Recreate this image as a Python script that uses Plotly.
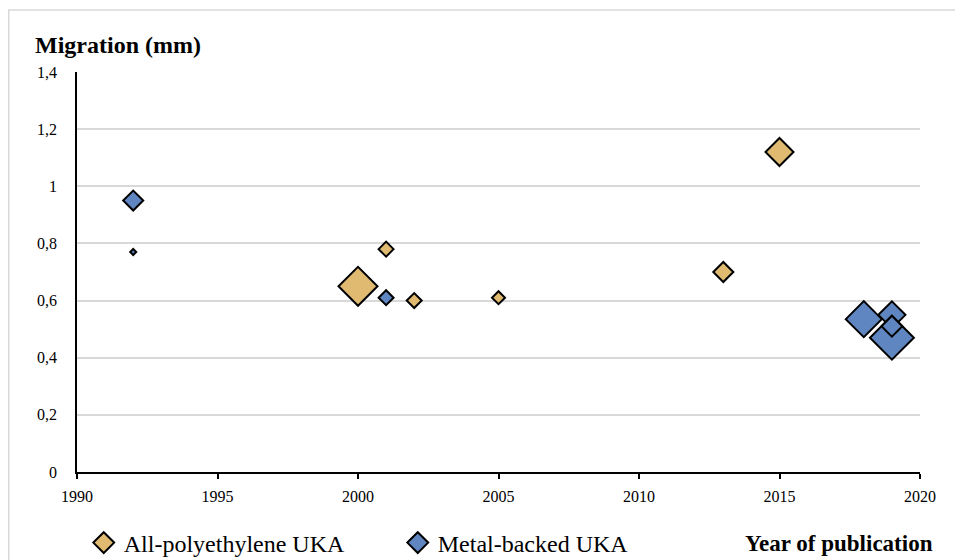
import plotly.graph_objects as go

# All-polyethylene UKA
poly_year = [2000, 2001, 2002, 2005, 2013, 2015]
poly_migration = [0.65, 0.78, 0.60, 0.61, 0.70, 1.12]
poly_size = [30, 11.5, 11.5, 10, 15.4, 21.5]

# Metal-backed UKA
metal_year = [1992, 1992, 2001, 2019, 2018, 2019, 2019]
metal_migration = [0.95, 0.77, 0.61, 0.55, 0.535, 0.47, 0.51]
metal_size = [15.4, 4.6, 11.5, 20.8, 27.7, 33.8, 16]

x_ticks = [1990, 1995, 2000, 2005, 2010, 2015, 2020]
y_ticks = [0, 0.2, 0.4, 0.6, 0.8, 1.0, 1.2, 1.4]

serif = "Liberation Serif"

fig = go.Figure()
fig.add_trace(go.Scatter(
    x=poly_year, y=poly_migration, mode="markers", name="All-polyethylene UKA",
    marker=dict(symbol="diamond", size=poly_size, color="#DFBA70", opacity=1,
                line=dict(color="black", width=2)),
))
fig.add_trace(go.Scatter(
    x=metal_year, y=metal_migration, mode="markers", name="Metal-backed UKA",
    marker=dict(symbol="diamond", size=metal_size, color="#5F86C0", opacity=1,
                line=dict(color="black", width=2)),
))

fig.update_layout(
    width=955, height=552,
    margin=dict(l=69, r=43, t=64, b=88, autoexpand=False),
    paper_bgcolor="white", plot_bgcolor="white",
    separators=", ",
    font=dict(family=serif, color="black"),
    showlegend=True,
    legend=dict(orientation="h", x=0.008, y=-0.1775, xanchor="left", yanchor="middle",
                font=dict(family=serif, size=24, color="black"),
                entrywidth=269, entrywidthmode="pixels",
                bgcolor="rgba(0,0,0,0)", itemclick=False),
    xaxis=dict(range=[1990, 2020], tickvals=x_ticks, ticks="outside", ticklen=5,
               tickcolor="black", tickwidth=1.5, showline=True, linecolor="black",
               linewidth=1.5, showgrid=False, zeroline=False, ticklabelstandoff=4,
               tickfont=dict(family=serif, size=16, color="black")),
    yaxis=dict(range=[0, 1.4], tickvals=y_ticks, ticks="", showline=True,
               linecolor="black", linewidth=1.5, showgrid=True, gridcolor="#D9D9D9",
               gridwidth=1.5, zeroline=False, ticklabelstandoff=15,
               tickfont=dict(family=serif, size=16, color="black")),
    shapes=[dict(type="rect", xref="paper", yref="paper", x0=-0.0810, x1=1.3,
                 y0=-0.6, y1=1.155, line=dict(color="#D9D9D9", width=1.5),
                 fillcolor="rgba(0,0,0,0)", layer="below")],
    annotations=[
        dict(text="<b>Migration (mm)</b>", xref="paper", yref="paper",
             x=-0.0522, y=1.0675, xanchor="left", yanchor="middle", showarrow=False,
             font=dict(family=serif, size=24, color="black")),
        dict(text="<b>Year of publication</b>", xref="paper", yref="paper",
             x=(935 - 77) / 843, y=-0.1775, xanchor="right", yanchor="middle",
             showarrow=False, font=dict(family=serif, size=23, color="black")),
    ],
)

fig.write_html("out.html")
